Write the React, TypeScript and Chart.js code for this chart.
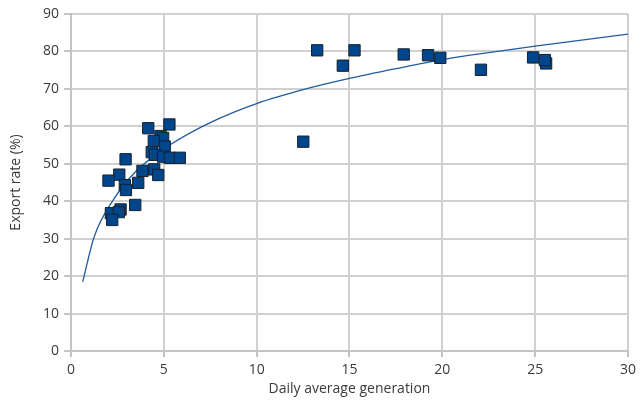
import React, { useEffect, useRef } from "react";
import { Chart, registerables } from "chart.js";

Chart.register(...registerables);

// Scatter observations: daily average generation (x) vs export rate % (y)
const pointX = [
  13.26, 14.64, 15.27, 17.92, 19.23, 19.89, 22.08, 24.89, 25.59, 25.52, 12.51,
  4.16, 5.3, 4.82, 4.96, 4.46, 5.05, 4.35, 4.52, 4.96, 5.32, 5.86, 2.94, 3.85,
  4.48, 4.7, 2.6, 2.02, 2.9, 2.96, 3.62, 3.46, 2.15, 2.67, 2.58, 2.22,
];
const pointY = [
  80.3, 76.2, 80.3, 79.2, 79.0, 78.3, 75.1, 78.4, 76.8, 77.7, 55.9,
  59.5, 60.5, 57.4, 56.9, 56.1, 54.6, 53.1, 52.4, 51.9, 51.6, 51.6, 51.2, 48.1,
  48.5, 47.0, 47.1, 45.5, 44.3, 43.0, 44.9, 39.0, 36.8, 37.8, 37.1, 35.0,
];

// Trend line
const trendX = [0.63, 1.24, 2.27, 3.5, 5.32, 7.5, 10.07, 12.5, 14.82, 17.5, 20.1, 22.5, 25.1, 27.5, 30];
const trendY = [18.5, 30.4, 40.3, 48.0, 55.0, 61.0, 66.2, 69.8, 72.6, 75.4, 77.9, 79.7, 81.5, 83.0, 84.6];

const xTicks = [0, 5, 10, 15, 20, 25, 30];
const yTicks = [0, 10, 20, 30, 40, 50, 60, 70, 80, 90];

const FONT = "'Open Sans', 'Noto Sans', sans-serif";

export default function App() {
  const ref = useRef<HTMLCanvasElement | null>(null);

  useEffect(() => {
    if (!ref.current) return;
    const chart = new Chart(ref.current, {
      type: "scatter",
      data: {
        datasets: [
          {
            label: "Observations",
            data: pointX.map((x, i) => ({ x, y: pointY[i] })),
            pointStyle: "rect",
            pointRadius: 8,
            pointHoverRadius: 8,
            backgroundColor: "#00468c",
            borderColor: "#15202e",
            borderWidth: 1,
            order: 1,
          },
          {
            label: "Trend",
            type: "line",
            data: trendX.map((x, i) => ({ x, y: trendY[i] })),
            showLine: true,
            pointRadius: 0,
            borderColor: "#1f5c9e",
            borderWidth: 1.3,
            cubicInterpolationMode: "monotone",
            fill: false,
            order: 2,
          } as any,
        ],
      },
      options: {
        animation: false,
        responsive: true,
        maintainAspectRatio: false,
        layout: { padding: { left: 0, right: 12, top: 14, bottom: 0 } },
        plugins: { legend: { display: false }, tooltip: { enabled: false } },
        scales: {
          x: {
            type: "linear",
            min: 0,
            max: 30,
            afterBuildTicks: (s: any) => {
              s.ticks = xTicks.map((v) => ({ value: v }));
            },
            afterFit: (s: any) => {
              s.height = 53;
            },
            grid: { color: "#d0d0d0", lineWidth: 2, tickLength: 6, tickColor: "#c4c4c4" },
            border: { color: "#c4c4c4", width: 2 },
            ticks: { color: "#3a3a3a", font: { family: FONT, size: 14 }, padding: 5 },
            title: {
              display: true,
              text: "Daily average generation",
              color: "#3a3a3a",
              font: { family: FONT, size: 14 },
              padding: { top: 0, bottom: 7 },
            },
          },
          y: {
            type: "linear",
            min: 0,
            max: 90,
            afterBuildTicks: (s: any) => {
              s.ticks = yTicks.map((v) => ({ value: v }));
            },
            afterFit: (s: any) => {
              s.width = 71;
            },
            grid: { color: "#d0d0d0", lineWidth: 2, tickLength: 7, tickColor: "#c4c4c4" },
            border: { color: "#c4c4c4", width: 2 },
            ticks: { color: "#3a3a3a", font: { family: FONT, size: 14 }, padding: 5 },
            title: {
              display: true,
              text: "Export rate (%)",
              color: "#3a3a3a",
              font: { family: FONT, size: 14 },
              padding: { top: 8, bottom: 0 },
            },
          },
        },
      },
    });
    return () => chart.destroy();
  }, []);

  return (
    <div style={{ position: "fixed", left: 0, top: 0, width: 641, height: 404, background: "#fff" }}>
      <canvas ref={ref} />
    </div>
  );
}
